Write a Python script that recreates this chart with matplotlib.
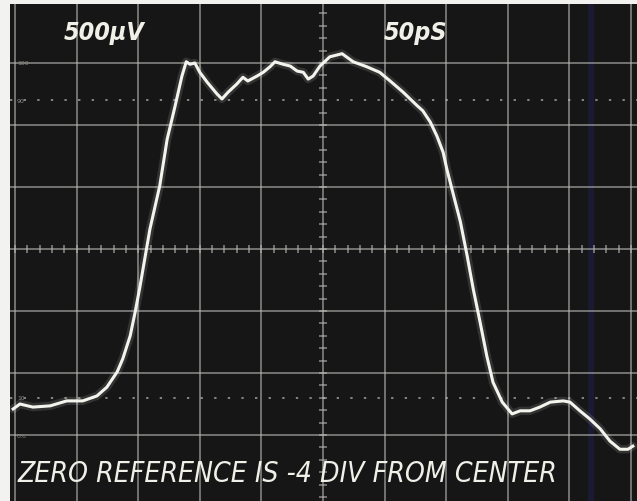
import numpy as np
import matplotlib
matplotlib.use("Agg")
import matplotlib.pyplot as plt
from matplotlib.collections import LineCollection

# Waveform read from the screen, in graticule divisions
# (x: 0..10 div, 50 ps/div; y: -4..+4 div from centre, 500 uV/div)
trace_x = [-0.03, 0.08, 0.29, 0.57, 0.84, 1.10, 1.33, 1.49, 1.66, 1.75, 1.87,
           1.95, 2.03, 2.19, 2.35, 2.47, 2.60, 2.71, 2.78, 2.84, 2.92, 3.00,
           3.12, 3.28, 3.36, 3.46, 3.60, 3.70, 3.78, 3.93, 4.03, 4.14, 4.22,
           4.35, 4.47, 4.58, 4.68, 4.76, 4.84, 4.95, 5.11, 5.31, 5.49, 5.71,
           5.92, 6.09, 6.30, 6.53, 6.62, 6.74, 6.85, 6.95, 7.01, 7.10, 7.23,
           7.34, 7.44, 7.55, 7.66, 7.76, 7.91, 8.07, 8.20, 8.36, 8.52, 8.69,
           8.90, 9.01, 9.17, 9.33, 9.50, 9.66, 9.82, 9.95, 10.03]
trace_y = [-2.58, -2.50, -2.55, -2.53, -2.45, -2.45, -2.37, -2.23, -1.98,
           -1.77, -1.40, -1.02, -0.60, 0.32, 1.02, 1.77, 2.31, 2.79, 3.02,
           2.98, 3.00, 2.85, 2.69, 2.50, 2.42, 2.53, 2.66, 2.77, 2.71, 2.79,
           2.85, 2.94, 3.02, 2.98, 2.95, 2.87, 2.85, 2.74, 2.79, 2.95, 3.10,
           3.15, 3.02, 2.94, 2.85, 2.71, 2.53, 2.31, 2.23, 2.05, 1.82, 1.56,
           1.29, 0.94, 0.44, -0.11, -0.65, -1.18, -1.73, -2.15, -2.47, -2.66,
           -2.61, -2.61, -2.55, -2.47, -2.45, -2.47, -2.61, -2.74, -2.90,
           -3.10, -3.23, -3.23, -3.18]

x_grid = list(range(0, 11))
y_grid = [-3, -2, -1, 0, 1, 2, 3]
ref_dotted = [2.4, -2.4]          # 90 % and 10 % lines
ref_labels = ["100", "90", "10", "0%"]
ref_label_y = [3.0, 2.4, -2.4, -3.0]
volt_label = "500\u03bcV"
time_label = "50pS"
footer = "ZERO REFERENCE IS -4 DIV FROM CENTER"

W, H = 637, 502
fig = plt.figure(figsize=(W / 100, H / 100), dpi=100, facecolor="#f2f2f0")
ax = fig.add_axes([10 / W, 0, 1 - 10 / W, 1 - 5 / H])
ax.set_facecolor("#161616")

px2x = lambda p: (p - 15) / 61.6
py2y = lambda p: (250 - p) / 62.0
ax.set_xlim(px2x(10), px2x(637))
ax.set_ylim(py2y(502), py2y(5))

grid_col = "#b4b4b0"
ax.set_xticks(x_grid)
ax.set_yticks(y_grid)
ax.grid(True, color=grid_col, linewidth=1.1, alpha=0.75)
ax.tick_params(length=0, labelbottom=False, labelleft=False)
for s in ax.spines.values():
    s.set_visible(False)

ax.axvspan(px2x(588), px2x(594), color="#1c1c3a", alpha=0.8, lw=0)

for yy in ref_dotted:
    ax.axhline(yy, color=grid_col, lw=1.4, alpha=0.7, dashes=(1.2, 5.8))

segs = []
for v in np.arange(-4, 4.01, 0.2):
    segs.append([(5 - 0.06, v), (5 + 0.06, v)])
for v in np.arange(0, 10.01, 0.2):
    segs.append([(v, -0.06), (v, 0.06)])
ax.add_collection(LineCollection(segs, colors=grid_col, linewidths=1.1, alpha=0.75))

for t, yy in zip(ref_labels, ref_label_y):
    ax.text(px2x(17), yy, t, color="#8a8a86", fontsize=4.5, va="center", ha="left")

ax.plot(trace_x, trace_y, color="#ffffff", lw=6, alpha=0.12, solid_capstyle="round")
ax.plot(trace_x, trace_y, color="#f4f4ee", lw=2.2, solid_joinstyle="round")

txt_kw = dict(color="#f0f0e8", fontstyle="oblique", family="DejaVu Sans",
              transform=ax.transData)
ax.text(px2x(64), py2y(33), volt_label, fontsize=18, va="center", ha="left",
        fontweight="semibold", fontstretch="condensed", **txt_kw)
ax.text(px2x(384), py2y(33), time_label, fontsize=18, va="center", ha="left",
        fontweight="semibold", fontstretch="condensed", **txt_kw)
t = ax.text(px2x(18), py2y(474), footer, fontsize=24, va="center", ha="left",
            fontstretch="condensed", **txt_kw)

# fit footer width to the reference (about 18..560 px)
fig.canvas.draw()
bb = t.get_window_extent()
t.set_fontsize(24 * 542.0 / bb.width)

fig.savefig("out.png", dpi=100, facecolor=fig.get_facecolor())
